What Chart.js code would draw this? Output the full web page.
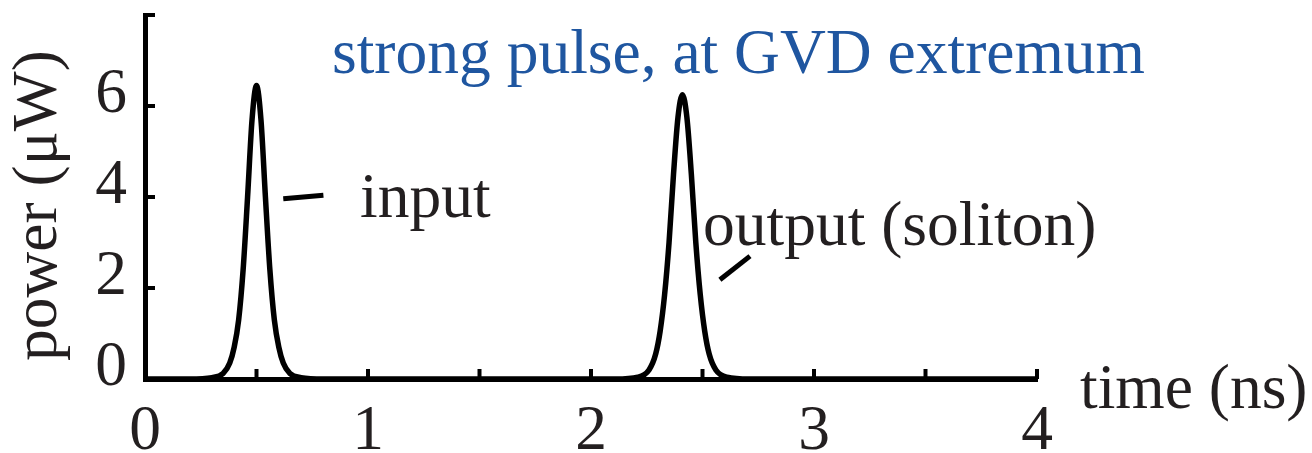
<!DOCTYPE html>
<html>
<head>
<meta charset="utf-8">
<script src="https://cdn.jsdelivr.net/npm/chart.js@4"></script>
<style>
    body { margin: 0; background: #fff; }
    canvas { display: block; }
</style>
</head>
<body>
<canvas id="pulseChart" width="1312" height="453"></canvas>
<script>
// time axis (ns) and power (uW)
const timeNs = [
    0, 0.20, 0.30, 0.35, 0.38, 0.40, 0.42, 0.44, 0.46, 0.48, 0.50,
    0.52, 0.54, 0.56, 0.58, 0.60, 0.62, 0.65, 0.70, 0.80,
    2.11, 2.21, 2.26, 2.29, 2.31, 2.33, 2.35, 2.37, 2.39, 2.41,
    2.43, 2.45, 2.47, 2.49, 2.51, 2.53, 2.56, 2.61, 2.71, 4.0
];
const powerUW = [
    0, 0, 0.03, 0.12, 0.35, 0.7, 1.3, 2.4, 4.0, 5.7, 6.45,
    5.7, 4.0, 2.4, 1.3, 0.7, 0.35, 0.12, 0.03, 0,
    0, 0.04, 0.2, 0.55, 1.05, 1.85, 3.0, 4.5, 5.75, 6.25,
    5.75, 4.5, 3.0, 1.85, 1.05, 0.55, 0.2, 0.04, 0, 0
];
const xTickLabels = ['0', '1', '2', '3', '4'];
const yTickLabels = ['0', '2', '4', '6'];

const titleText = 'strong pulse, at GVD extremum';
const xAxisTitle = 'time (ns)';
const yAxisTitle = 'power (\u03bcW)';
const inputLabel = 'input';
const outputLabel = 'output (soliton)';

const serif = "'Liberation Serif', 'Times New Roman', serif";
const ink = '#231f20';
const blue = '#1f56a0';
const fontSize = 63.5;

// inward tick marks, leader lines and free text
const decorations = {
    id: 'decorations',
    afterDraw(chart) {
        const ctx = chart.ctx;
        const xs = chart.scales.x;
        const ys = chart.scales.y;
        const area = chart.chartArea;

        ctx.save();
        ctx.strokeStyle = '#000';
        ctx.lineWidth = 4;
        ctx.lineCap = 'butt';
        xs.ticks.forEach(t => {
            const px = xs.getPixelForValue(t.value);
            ctx.beginPath();
            ctx.moveTo(px, area.bottom);
            ctx.lineTo(px, area.bottom - 10);
            ctx.stroke();
        });
        ys.ticks.forEach(t => {
            const py = ys.getPixelForValue(t.value);
            ctx.beginPath();
            ctx.moveTo(area.left, py);
            ctx.lineTo(area.left + 10, py);
            ctx.stroke();
        });

        // leader lines
        ctx.lineWidth = 5;
        ctx.beginPath();
        ctx.moveTo(xs.getPixelForValue(0.62), ys.getPixelForValue(3.96));
        ctx.lineTo(xs.getPixelForValue(0.80), ys.getPixelForValue(4.04));
        ctx.stroke();
        ctx.beginPath();
        ctx.moveTo(xs.getPixelForValue(2.578), ys.getPixelForValue(2.18));
        ctx.lineTo(xs.getPixelForValue(2.713), ys.getPixelForValue(2.70));
        ctx.stroke();

        ctx.font = fontSize + 'px ' + serif;
        ctx.textBaseline = 'alphabetic';
        ctx.textAlign = 'left';
        ctx.fillStyle = blue;
        ctx.fillText(titleText, 332, 73);
        ctx.fillStyle = ink;
        ctx.fillText(inputLabel, 360, 217);
        ctx.fillText(outputLabel, 703, 245);
        ctx.fillText(xAxisTitle, 1080, 408);

        ctx.translate(56, 361);
        ctx.rotate(-Math.PI / 2);
        ctx.fillText(yAxisTitle, 0, 0);
        ctx.restore();
    }
};

const chart = new Chart(document.getElementById('pulseChart'), {
    type: 'line',
    data: {
        datasets: [{
            data: timeNs.map((t, i) => ({ x: t, y: powerUW[i] })),
            borderColor: '#000',
            borderWidth: 5.5,
            pointRadius: 0,
            cubicInterpolationMode: 'monotone',
            fill: false,
            clip: false
        }]
    },
    options: {
        responsive: false,
        animation: false,
        layout: { padding: { top: 15, right: 275, bottom: 0, left: 0 } },
        plugins: {
            legend: { display: false },
            tooltip: { enabled: false }
        },
        scales: {
            x: {
                type: 'linear',
                min: 0,
                max: 4,
                afterFit: scale => {
                    scale.height = 74;
                    scale.paddingLeft = 0;
                    scale.paddingRight = 0;
                },
                grid: { display: false, drawTicks: false },
                border: { display: true, color: '#000', width: 5 },
                ticks: {
                    stepSize: 0.5,
                    padding: 15,
                    color: ink,
                    font: { family: serif, size: fontSize },
                    maxRotation: 0,
                    autoSkip: false,
                    callback: v => (Number.isInteger(v) ? xTickLabels[v] : '')
                }
            },
            y: {
                type: 'linear',
                min: 0,
                max: 8,
                afterFit: scale => {
                    scale.width = 145;
                    scale.paddingTop = 0;
                    scale.paddingBottom = 0;
                },
                grid: { display: false, drawTicks: false },
                border: { display: true, color: '#000', width: 5 },
                ticks: {
                    stepSize: 2,
                    padding: 18,
                    labelOffset: -11,
                    color: ink,
                    font: { family: serif, size: fontSize },
                    callback: v => (yTickLabels[v / 2] !== undefined ? yTickLabels[v / 2] : '')
                }
            }
        }
    },
    plugins: [decorations]
});
</script>
</body>
</html>
